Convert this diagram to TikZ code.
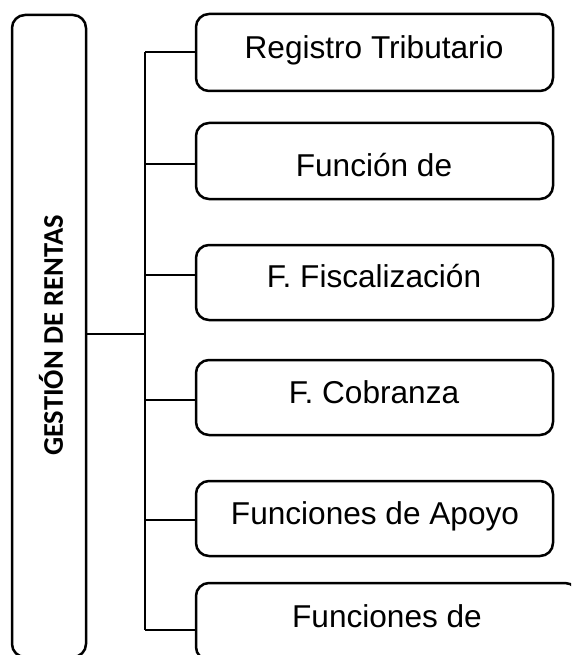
\documentclass[tikz,border=0pt]{standalone}
\usepackage{fontspec}
\setmainfont{Liberation Sans}
\newfontfamily\calibfont{Carlito}
\begin{document}
\begin{tikzpicture}[x=1pt,y=-1pt,
  box/.style={draw, line width=2.5pt, rounded corners=13pt, inner sep=0pt},
  fbox/.style={box, minimum width=357pt},
  lbl/.style={anchor=base, inner sep=0pt, font=\fontsize{31.6}{36}\selectfont},
  conn/.style={line width=1.3pt}]
\useasboundingbox (0,0) rectangle (571,655);
\clip (0,0) rectangle (571,655);
% left box
\node[box, minimum width=74pt, minimum height=642pt] (main) at (49,336) {};
\node[rotate=90, inner sep=0pt, font=\calibfont\bfseries\fontsize{28.5}{30}\selectfont] (mt) at (51,335.5) {GESTIÓN DE RENTAS};
% right boxes
\node[fbox, minimum height=77pt] (b1) at (374.5,52.5) {};
\node[fbox, minimum height=76pt] (b2) at (374.5,161) {};
\node[fbox, minimum height=75pt] (b3) at (374.5,282.5) {};
\node[fbox, minimum height=75pt] (b4) at (374.5,397.5) {};
\node[fbox, minimum height=75pt] (b5) at (374.5,518.5) {};
\node[box, minimum width=382pt, minimum height=77pt] (b6) at (387,621.5) {};
% texts
\node[lbl] (t1) at (374,59) {Registro Tributario};
\node[lbl] (t2) at (374,176) {Función de};
\node[lbl] (t3) at (374,287) {F. Fiscalización};
\node[lbl] (t4) at (374,403) {F. Cobranza};
\node[lbl] (t5) at (375,524) {Funciones de Apoyo};
\node[lbl] (t6) at (387,627) {Funciones de};
% connectors
\coordinate (j1) at (145,52);
\coordinate (j2) at (145,164);
\coordinate (j3) at (145,275);
\coordinate (j4) at (145,400);
\coordinate (j5) at (145,520);
\coordinate (j6) at (145,630);
\coordinate (jm) at (145,334);
\draw[conn] (j1) -- (j6);
\draw[conn] (main.east |- jm) -- (jm);
\draw[conn] (j1) -- (j1 -| b1.west);
\draw[conn] (j2) -- (j2 -| b2.west);
\draw[conn] (j3) -- (j3 -| b3.west);
\draw[conn] (j4) -- (j4 -| b4.west);
\draw[conn] (j5) -- (j5 -| b5.west);
\draw[conn] (j6) -- (j6 -| b6.west);
\end{tikzpicture}
\end{document}
